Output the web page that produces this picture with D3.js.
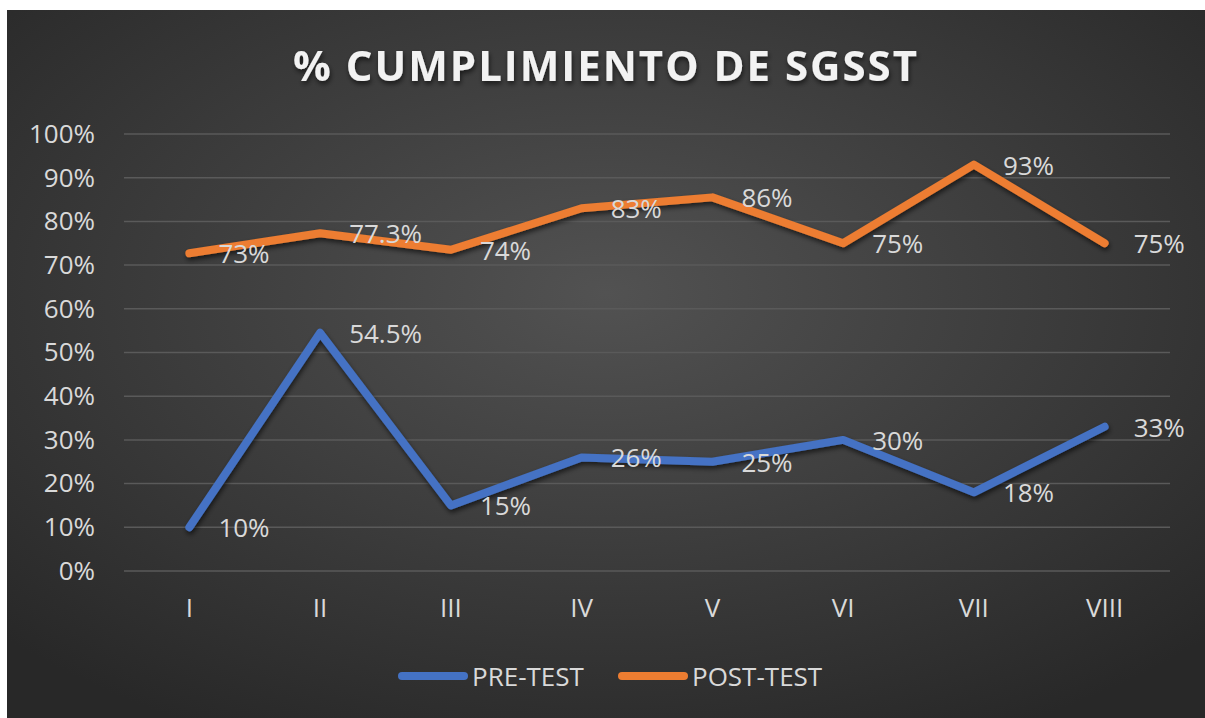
<!DOCTYPE html>
<html>
<head>
<meta charset="utf-8">
<script src="https://cdn.jsdelivr.net/npm/d3@7"></script>
<style>
  body { margin: 0; background: #fff; }
  svg { display: block; }
</style>
</head>
<body>
<script>
var categories = ["I", "II", "III", "IV", "V", "VI", "VII", "VIII"];
var preTest = [10, 54.5, 15, 26, 25, 30, 18, 33];
var postTest = [72.7, 77.3, 73.5, 83, 85.5, 75, 93, 75];
var preLabels = ["10%", "54.5%", "15%", "26%", "25%", "30%", "18%", "33%"];
var postLabels = ["73%", "77.3%", "74%", "83%", "86%", "75%", "93%", "75%"];
var yTicks = [0, 10, 20, 30, 40, 50, 60, 70, 80, 90, 100];

var width = 1205,
  height = 718;
var margin = { top: 134, bottom: 147, left: 124, right: 35 };

var svg = d3.select('body')
  .append('svg')
  .attr('width', width)
  .attr('height', height);

var defs = svg.append('defs');
var grad = defs.append('radialGradient')
  .attr('id', 'bg')
  .attr('cx', '50%').attr('cy', '40%')
  .attr('r', '70%');
grad.append('stop').attr('offset', '0%').attr('stop-color', '#525252');
grad.append('stop').attr('offset', '100%').attr('stop-color', '#282828');

var shadow = defs.append('filter').attr('id', 'shadow')
  .attr('x', '-10%').attr('y', '-10%').attr('width', '120%').attr('height', '130%');
shadow.append('feDropShadow')
  .attr('dx', 1).attr('dy', 3).attr('stdDeviation', 2.5)
  .attr('flood-color', '#000').attr('flood-opacity', 0.6);

//Background
svg.append('rect')
  .attr('x', 7).attr('y', 10)
  .attr('width', width - 7).attr('height', height - 10)
  .attr('fill', 'url(#bg)');

// Scales
var xScale = d3.scaleBand()
  .domain(categories)
  .range([margin.left, width - margin.right]);

var yScale = d3.scaleLinear()
  .domain([0, 100])
  .range([height - margin.bottom, margin.top]);

var font = "'Open Sans', sans-serif";

// Gridlines
svg.append('g')
  .selectAll('line')
  .data(yTicks)
  .enter()
  .append('line')
  .attr('x1', margin.left)
  .attr('x2', width - margin.right)
  .attr('y1', function(d) { return yScale(d); })
  .attr('y2', function(d) { return yScale(d); })
  .attr('stroke', '#5a5a5a')
  .attr('stroke-width', 1.5);

// Axes
var yAxis = svg.append('g')
  .attr('transform', 'translate(' + (margin.left - 29) + ',0)')
  .call(d3.axisLeft(yScale).tickValues(yTicks).tickSize(0).tickPadding(0)
    .tickFormat(function(d) { return d + '%'; }));
yAxis.select('.domain').remove();
yAxis.selectAll('text')
  .attr('fill', '#d9d9d9')
  .style('font-family', font)
  .style('font-size', '26px');

var xAxis = svg.append('g')
  .attr('transform', 'translate(0,' + (height - margin.bottom) + ')')
  .call(d3.axisBottom(xScale).tickSize(0).tickPadding(28));
xAxis.select('.domain').remove();
xAxis.selectAll('text')
  .attr('fill', '#d9d9d9')
  .style('font-family', font)
  .style('font-size', '26px');

// Title
svg.append('text')
  .attr('x', 293)
  .attr('y', 81)
  .attr('textLength', 624)
  .attr('lengthAdjust', 'spacing')
  .attr('fill', '#f2f2f2')
  .attr('filter', 'url(#shadow)')
  .style('font-family', font)
  .style('font-weight', 'bold')
  .style('font-size', '42px')
  .text('% CUMPLIMIENTO DE SGSST');

var cx = function(d, i) { return xScale(categories[i]) + xScale.bandwidth() / 2; };

var line = d3.line()
  .x(function(d, i) { return cx(d, i); })
  .y(function(d) { return yScale(d); });

var series = [
  { name: 'PRE-TEST', values: preTest, labels: preLabels, color: '#4472C4' },
  { name: 'POST-TEST', values: postTest, labels: postLabels, color: '#ED7D31' }
];

series.forEach(function(s) {
  svg.append('path')
    .datum(s.values)
    .attr('d', line)
    .attr('fill', 'none')
    .attr('stroke', s.color)
    .attr('stroke-width', 8)
    .attr('stroke-linecap', 'round')
    .attr('stroke-linejoin', 'round')
    .attr('filter', 'url(#shadow)');

  svg.append('g')
    .selectAll('text')
    .data(s.values)
    .enter()
    .append('text')
    .attr('x', function(d, i) { return cx(d, i) + 29; })
    .attr('y', function(d) { return yScale(d) + 10; })
    .attr('fill', '#d9d9d9')
    .style('font-family', font)
    .style('font-size', '26px')
    .text(function(d, i) { return s.labels[i]; });
});

// Legend
var legend = svg.append('g');
var legendX = [398, 618];
series.forEach(function(s, i) {
  legend.append('line')
    .attr('x1', legendX[i] + 4).attr('x2', legendX[i] + 66)
    .attr('y1', 676).attr('y2', 676)
    .attr('stroke', s.color)
    .attr('stroke-width', 8)
    .attr('stroke-linecap', 'round');
  legend.append('text')
    .attr('x', legendX[i] + 74)
    .attr('y', 686)
    .attr('fill', '#d9d9d9')
    .style('font-family', font)
    .style('font-size', '26px')
    .text(s.name);
});
</script>
</body>
</html>
